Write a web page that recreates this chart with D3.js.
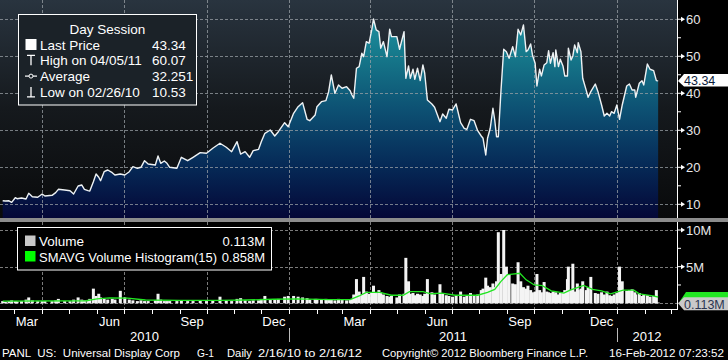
<!DOCTYPE html>
<html><head><meta charset="utf-8">
<script src="https://cdn.jsdelivr.net/npm/d3@7"></script>
<style>
html,body{margin:0;padding:0;background:#000;overflow:hidden}
svg{display:block}
text{font-family:"Liberation Sans",Arial,sans-serif}
</style>
</head><body>
<svg id="c" width="728" height="360"></svg>
<script>
// ---------- DATA ----------
const dates = [
"2010-02-16","2010-02-19","2010-02-23","2010-02-26",
"2010-03-02","2010-03-04","2010-03-09","2010-03-14","2010-03-17","2010-03-21","2010-03-27",
"2010-04-01","2010-04-04","2010-04-12","2010-04-16","2010-04-19","2010-04-26",
"2010-05-02","2010-05-06","2010-05-11","2010-05-15","2010-05-18","2010-05-22","2010-05-24","2010-05-28","2010-05-31",
"2010-06-03","2010-06-05","2010-06-09","2010-06-13","2010-06-18","2010-06-21","2010-06-27",
"2010-07-02","2010-07-07","2010-07-11","2010-07-16","2010-07-20","2010-07-24","2010-07-28",
"2010-08-05","2010-08-08","2010-08-11","2010-08-15","2010-08-18","2010-08-21","2010-08-29",
"2010-09-03","2010-09-10","2010-09-16","2010-09-24",
"2010-10-01","2010-10-08","2010-10-16","2010-10-23","2010-10-29",
"2010-11-04","2010-11-08","2010-11-13","2010-11-18","2010-11-22","2010-11-28",
"2010-12-01","2010-12-05","2010-12-11","2010-12-16","2010-12-20","2010-12-27","2010-12-31",
"2011-01-06","2011-01-11","2011-01-16","2011-01-21","2011-01-24","2011-01-30",
"2011-02-01","2011-02-06","2011-02-11","2011-02-14","2011-02-17","2011-02-21","2011-02-25",
"2011-03-01","2011-03-06","2011-03-10","2011-03-12","2011-03-14","2011-03-17","2011-03-20","2011-03-23","2011-03-25","2011-03-28","2011-03-31",
"2011-04-03","2011-04-05","2011-04-08","2011-04-11","2011-04-13","2011-04-16","2011-04-20","2011-04-23","2011-04-25",
"2011-05-01","2011-05-04","2011-05-09","2011-05-11","2011-05-14","2011-05-16","2011-05-19","2011-05-21","2011-05-24","2011-05-27","2011-05-30",
"2011-06-01","2011-06-04","2011-06-09","2011-06-12","2011-06-18","2011-06-21","2011-06-25","2011-06-28",
"2011-07-02","2011-07-06","2011-07-11","2011-07-15","2011-07-18","2011-07-22","2011-07-26","2011-07-30",
"2011-08-03","2011-08-05","2011-08-08","2011-08-10","2011-08-13","2011-08-16","2011-08-18","2011-08-20","2011-08-22","2011-08-25","2011-08-28","2011-08-31",
"2011-09-03","2011-09-07","2011-09-10","2011-09-13","2011-09-16","2011-09-19","2011-09-22","2011-09-24","2011-09-27","2011-09-29",
"2011-10-02","2011-10-04","2011-10-07","2011-10-09","2011-10-12","2011-10-15","2011-10-17","2011-10-19","2011-10-22","2011-10-24","2011-10-25","2011-10-28","2011-10-30",
"2011-11-02","2011-11-04","2011-11-07","2011-11-08","2011-11-11","2011-11-13","2011-11-15","2011-11-18","2011-11-19","2011-11-22","2011-11-24","2011-11-28","2011-11-30",
"2011-12-03","2011-12-08","2011-12-11","2011-12-15","2011-12-18","2011-12-21","2011-12-24","2011-12-26","2011-12-29",
"2012-01-01","2012-01-04","2012-01-07","2012-01-12","2012-01-15","2012-01-18","2012-01-21","2012-01-22","2012-01-26","2012-01-29","2012-01-31",
"2012-02-04","2012-02-07","2012-02-11","2012-02-14","2012-02-16"];

const lastPrice = [
10.97,10.90,10.95,10.53,
11.78,11.51,11.70,11.43,12.97,12.05,11.89,
12.78,12.24,12.43,13.14,14.05,13.86,
13.68,12.78,14.95,15.22,14.05,13.68,13.59,16.11,18.19,
17.30,16.38,18.81,19.27,18.54,17.92,18.19,
17.92,18.81,20.16,19.73,20.00,21.78,20.89,
20.62,23.05,21.08,21.70,21.08,20.00,19.73,
22.70,21.78,22.70,23.95,
23.78,25.14,26.49,25.41,24.22,
26.92,23.59,24.22,22.70,24.49,24.86,
26.92,29.19,30.08,28.46,29.62,32.05,30.97,
34.59,36.38,37.46,32.97,32.59,34.14,
36.38,37.73,38.00,40.43,44.95,40.00,42.24,
41.35,41.78,40.70,39.54,38.65,46.76,47.19,50.81,49.89,53.95,53.51,
57.11,60.07,57.11,56.65,52.16,53.95,49.89,57.30,55.30,
55.30,51.89,56.65,44.05,47.38,44.05,46.49,43.78,46.76,43.41,47.65,
45.41,38.19,37.11,36.22,32.32,34.41,33.24,35.68,
35.49,37.11,32.05,30.54,30.27,32.97,32.59,29.89,
28.46,27.84,23.32,27.84,30.54,35.95,32.78,28.27,28.27,40.89,51.89,51.24,
49.46,52.59,49.89,57.30,55.76,58.46,51.24,51.70,53.32,50.35,
48.11,41.97,46.49,44.68,47.65,48.27,51.51,48.11,50.97,47.19,51.70,47.19,49.19,
47.38,44.68,44.68,52.16,49.00,50.08,53.05,50.97,53.68,51.24,44.05,40.70,38.92,
40.43,42.51,40.43,36.84,33.86,34.59,33.86,35.03,34.59,
36.84,32.97,36.84,41.97,42.51,40.89,40.89,38.92,42.70,43.41,42.24,
47.92,46.49,46.11,43.41,43.34];

// volume in millions of shares
const volume = [
0.3,0.2,0.3,0.4,
0.3,0.25,0.3,0.5,0.8,0.4,0.3,
0.3,0.3,0.3,0.4,0.6,0.3,
0.3,0.5,0.8,0.5,0.4,0.3,0.6,2.0,1.0,
1.3,0.8,0.6,0.5,0.6,0.5,1.7,
0.8,0.5,0.4,0.3,0.4,0.3,0.3,
0.4,1.3,0.5,0.3,0.3,0.3,0.3,
0.4,0.3,0.3,0.4,
0.3,0.4,0.9,0.4,0.3,
0.6,0.7,0.4,0.3,0.4,0.4,
0.6,1.0,0.5,0.5,0.6,0.9,1.0,
1.0,0.9,0.8,0.7,0.5,0.6,
0.6,0.5,0.6,0.5,0.5,0.4,0.6,
0.5,0.4,0.5,0.6,1.2,3.3,1.6,1.2,3.6,1.6,1.3,
1.5,2.4,1.4,1.8,1.5,1.2,1.0,0.9,1.0,
0.8,1.2,1.3,6.2,3.0,1.3,1.4,1.1,1.3,1.2,1.0,
1.3,3.3,1.5,1.2,2.6,1.4,1.1,1.0,
0.9,1.0,1.6,0.9,1.0,1.4,1.1,1.2,
1.8,2.0,3.5,2.4,2.2,2.7,2.2,3.0,9.7,4.0,10.0,5.0,
3.9,2.7,2.6,5.6,3.0,2.2,2.0,2.4,1.8,1.5,
1.6,4.0,1.8,1.5,2.9,1.6,1.5,1.4,1.6,1.3,1.5,1.2,1.4,
1.5,1.8,3.3,5.0,1.8,5.4,1.6,2.7,1.8,2.0,3.0,1.8,2.2,
3.6,1.4,1.3,1.5,1.2,1.6,1.1,1.0,1.2,
1.4,5.0,3.0,1.7,1.8,1.9,1.5,1.2,1.4,1.0,1.2,
1.1,0.9,1.0,1.8,0.113];

const smaDates = ["2010-02-16","2010-05-20","2010-06-01","2010-06-15","2010-07-05","2010-07-25","2010-09-01","2010-10-15","2010-11-15","2010-12-15",
"2011-01-10","2011-02-15","2011-03-10","2011-03-20","2011-03-28","2011-04-12","2011-04-25","2011-05-08","2011-05-15","2011-05-30",
"2011-06-08","2011-06-20","2011-07-05","2011-07-30","2011-08-10","2011-08-18","2011-08-25","2011-09-01","2011-09-15","2011-09-22",
"2011-10-01","2011-10-10","2011-10-20","2011-10-30","2011-11-03","2011-11-10","2011-11-25","2011-12-05","2011-12-15","2011-12-25",
"2012-01-08","2012-01-20","2012-01-26","2012-02-10","2012-02-16"];
const smaVolume = [0.3,0.35,0.6,0.75,0.7,0.45,0.4,0.4,0.45,0.55,
0.6,0.5,0.5,1.0,1.5,1.5,1.1,1.1,1.6,1.6,
1.3,1.4,1.1,1.1,1.5,1.9,3.0,3.9,4.1,3.2,
2.5,2.4,1.7,1.5,1.4,1.8,2.45,1.9,1.7,1.3,
1.8,1.8,1.3,1.0,0.86];

const priceTicks = [10,20,30,40,50,60];
const priceMinor = [15,25,35,45,55];
const volTicks = [5,10];
const volTickLabels = ["5M","10M"];
const volMinor = [2.5,7.5];
const monthLabels = ["Mar","Jun","Sep","Dec","Mar","Jun","Sep","Dec"];
const monthLabelDates = ["2010-03-15","2010-06-15","2010-09-15","2010-12-15","2011-03-15","2011-06-15","2011-09-15","2011-12-15"];
const yearLabels = ["2010","2011","2012"];
const gridDates = ["2010-04-01","2010-07-01","2010-10-01","2011-01-01","2011-04-01","2011-07-01","2011-10-01","2012-01-01"];
const yearStarts = ["2011-01-01","2012-01-01"];
const legendRows = [
  {label:"Last Price", value:"43.34", icon:"square"},
  {label:"High on 04/05/11", value:"60.07", icon:"high"},
  {label:"Average", value:"32.251", icon:"avg"},
  {label:"Low on 02/26/10", value:"10.53", icon:"low"}];
const volLegend = [
  {label:"Volume", value:"0.113M", color:"#c8c8c8", fs:13.5, w:null},
  {label:"SMAVG Volume Histogram(15)", value:"0.858M", color:"#00ff00", fs:12.5, w:178}];
const footerParts = [
  {t:"PANL  US:  Universal Display Corp", x:2, w:178},
  {t:"G-1", x:197, w:17},
  {t:"Daily", x:227, w:25},
  {t:"2/16/10 to 2/16/12", x:258, w:104},
  {t:"Copyright\u00a9 2012 Bloomberg Finance L.P.", x:382, w:206},
  {t:"16-Feb-2012 07:23:52", x:609, w:115}];

// ---------- SCALES ----------
const parse = d3.utcParse("%Y-%m-%d");
const PR = 677;            // right edge of plot
const MAIN_B = 218;        // bottom of price panel
const x = d3.scaleUtc().domain([Date.UTC(2010,1,13), Date.UTC(2012,2,8)]).range([0, PR]);
const yP = d3.scaleLinear().domain([6.3, 65.2]).range([MAIN_B, 0]);
const yV = d3.scaleLinear().domain([0, 10]).range([303.3, 230]);

const n = Math.min(dates.length, lastPrice.length, volume.length);
const data = d3.range(n).map(i => ({date: parse(dates[i]), p: lastPrice[i], v: volume[i]}));
const sma = smaDates.map((d,i) => ({date: parse(d), v: smaVolume[i]}));

const svg = d3.select("#c");
svg.append("rect").attr("width",728).attr("height",360).attr("fill","#000");
const defs = svg.append("defs");
const bgG = defs.append("linearGradient").attr("id","bg").attr("gradientUnits","userSpaceOnUse")
  .attr("x1",0).attr("x2",0).attr("y1",0).attr("y2",MAIN_B);
[[0,"#29343f"],[0.5,"#15191d"],[1,"#090a0b"]].forEach(s=>bgG.append("stop").attr("offset",s[0]).attr("stop-color",s[1]));
const arG = defs.append("linearGradient").attr("id","ar").attr("gradientUnits","userSpaceOnUse")
  .attr("x1",0).attr("x2",0).attr("y1",0).attr("y2",MAIN_B);
[[0,"#1f9aab"],[0.25,"#16798b"],[0.5,"#0d5173"],[0.75,"#062b58"],[1,"#040737"]].forEach(s=>arG.append("stop").attr("offset",s[0]).attr("stop-color",s[1]));

// price panel background
svg.append("rect").attr("x",0).attr("y",0).attr("width",PR).attr("height",MAIN_B).attr("fill","url(#bg)");

// area
svg.append("path").datum(data)
  .attr("d", d3.area().x(d=>x(d.date)).y0(MAIN_B).y1(d=>yP(d.p)))
  .attr("fill","url(#ar)");

// grid (price)
const grid = svg.append("g").attr("stroke","#9aa0a6").attr("stroke-opacity",0.75).attr("stroke-width",1).attr("stroke-dasharray","3,2");
priceTicks.forEach(t=>grid.append("line").attr("x1",0).attr("x2",PR).attr("y1",Math.round(yP(t))+0.5).attr("y2",Math.round(yP(t))+0.5));
gridDates.forEach(d=>{const gx=Math.round(x(parse(d)))+0.5;
  grid.append("line").attr("x1",gx).attr("x2",gx).attr("y1",0).attr("y2",MAIN_B);});

// price line
svg.append("path").datum(data)
  .attr("d", d3.line().x(d=>x(d.date)).y(d=>yP(d.p)))
  .attr("fill","none").attr("stroke","#eef2f4").attr("stroke-width",1.4).attr("stroke-linejoin","round");

// right axis (price)
const ax = svg.append("g");
ax.append("line").attr("x1",PR+0.5).attr("x2",PR+0.5).attr("y1",0).attr("y2",MAIN_B).attr("stroke","#fff");
priceTicks.forEach(t=>{
  const ty=yP(t);
  ax.append("line").attr("x1",PR).attr("x2",PR+5).attr("y1",ty).attr("y2",ty).attr("stroke","#fff");
  ax.append("path").attr("d",`M${PR+4},${ty-2.5}L${PR+8},${ty}L${PR+4},${ty+2.5}Z`).attr("fill","#fff");
  ax.append("text").attr("x",PR+9).attr("y",ty+5).attr("fill","#e8e8e8").attr("font-size","13px").text(t);
});
priceMinor.forEach(t=>ax.append("line").attr("x1",PR).attr("x2",PR+4).attr("y1",yP(t)).attr("y2",yP(t)).attr("stroke","#fff"));

// last price tag
const lp = yP(lastPrice[n-1]);
svg.append("path").attr("d",`M${PR+1},${lp}L${PR+7},${lp-7}L728,${lp-7}L728,${lp+5.5}L${PR+7},${lp+5.5}Z`).attr("fill","#fff");
svg.append("text").attr("x",PR+7).attr("y",lp+4).attr("fill","#0b1b3a").attr("font-size","12.5px").text(lastPrice[n-1].toFixed(2));

// price legend
const lg = svg.append("g");
lg.append("rect").attr("x",18.5).attr("y",14.5).attr("width",178).attr("height",90.5).attr("fill","#1b2228").attr("stroke","#fff").attr("stroke-width",1);
lg.append("text").attr("x",107.5).attr("y",33.5).attr("text-anchor","middle").attr("fill","#fff").attr("font-size","13.5px").text("Day Session");
legendRows.forEach((r,i)=>{
  const by = 49.5 + i*15.8;
  lg.append("text").attr("x",40).attr("y",by).attr("fill","#fff").attr("font-size","13.5px").text(r.label);
  lg.append("text").attr("x",152).attr("y",by).attr("fill","#fff").attr("font-size","13.5px").text(r.value);
  const cy = by-5;
  if(r.icon==="square") lg.append("rect").attr("x",25.5).attr("y",by-10.5).attr("width",11).attr("height",11).attr("fill","#fff");
  if(r.icon==="high"){ lg.append("path").attr("d",`M27,${cy-5}H35M31,${cy-5}V${cy+5}`).attr("stroke","#fff").attr("stroke-width",1.3).attr("fill","none"); }
  if(r.icon==="avg"){ lg.append("path").attr("d",`M25,${cy}H37`).attr("stroke","#fff").attr("stroke-width",1.2);
    lg.append("circle").attr("cx",31).attr("cy",cy).attr("r",2).attr("fill","#1b2228").attr("stroke","#fff"); }
  if(r.icon==="low"){ lg.append("path").attr("d",`M31,${cy-5}V${cy+5}M27,${cy+5}H35`).attr("stroke","#fff").attr("stroke-width",1.3).attr("fill","none"); }
});

// separator band
svg.append("rect").attr("x",0).attr("y",MAIN_B).attr("width",728).attr("height",4).attr("fill","#8c8c8c");

// volume panel grid
const vgrid = svg.append("g").attr("stroke","#9a9a9a").attr("stroke-opacity",0.8).attr("stroke-dasharray","3,2");
[0].concat(volTicks).forEach(t=>vgrid.append("line").attr("x1",0).attr("x2",PR).attr("y1",Math.round(yV(t))+0.5).attr("y2",Math.round(yV(t))+0.5));
gridDates.forEach(d=>{const gx=Math.round(x(parse(d)))+0.5;
  vgrid.append("line").attr("x1",gx).attr("x2",gx).attr("y1",222).attr("y2",309);});

// volume bars
svg.append("g").selectAll("rect").data(data).join("rect")
  .attr("x",d=>x(d.date)-1.5).attr("width",3)
  .attr("y",d=>yV(d.v)).attr("height",d=>yV(0)-yV(d.v))
  .attr("fill","#f4f4f4");

// SMA line
svg.append("path").datum(sma)
  .attr("d", d3.line().x(d=>x(d.date)).y(d=>yV(d.v)))
  .attr("fill","none").attr("stroke","#22e622").attr("stroke-width",1.3);

// volume axis
const vax = svg.append("g");
vax.append("line").attr("x1",PR+0.5).attr("x2",PR+0.5).attr("y1",222).attr("y2",309).attr("stroke","#fff");
volTicks.forEach((t,i)=>{
  const ty=yV(t);
  vax.append("line").attr("x1",PR).attr("x2",PR+5).attr("y1",ty).attr("y2",ty).attr("stroke","#fff");
  vax.append("path").attr("d",`M${PR+4},${ty-2.5}L${PR+8},${ty}L${PR+4},${ty+2.5}Z`).attr("fill","#fff");
  vax.append("text").attr("x",PR+9).attr("y",ty+5).attr("fill","#e8e8e8").attr("font-size","13px").text(volTickLabels[i]);
});
volMinor.forEach(t=>vax.append("line").attr("x1",PR).attr("x2",PR+4).attr("y1",yV(t)).attr("y2",yV(t)).attr("stroke","#fff"));

// volume tags (SMA behind, volume in front)
const sy = yV(smaVolume[smaVolume.length-1]);
svg.append("path").attr("d",`M${PR+3},${sy+4}L${PR+9},${sy-5}L728,${sy-5}L728,${sy+4}Z`).attr("fill","#22e622");
const vy = yV(0);
svg.append("path").attr("d",`M${PR+1},${vy}L${PR+7},${vy-6}L728,${vy-6}L728,${vy+7}L${PR+7},${vy+7}Z`).attr("fill","#c9c9c9");
svg.append("text").attr("x",PR+7).attr("y",vy+5.5).attr("fill","#2a3550").attr("font-size","12.5px").text(volume[n-1].toFixed(3)+"M");

// volume legend
const vl = svg.append("g");
vl.append("rect").attr("x",17.5).attr("y",227.5).attr("width",254).attr("height",42.5).attr("fill","#000").attr("stroke","#fff");
volLegend.forEach((r,i)=>{
  const by = 246 + i*15.5;
  vl.append("rect").attr("x",25).attr("y",by-10.5).attr("width",10.5).attr("height",10.5).attr("fill",r.color);
  const t = vl.append("text").attr("x",39).attr("y",by).attr("fill","#fff").attr("font-size",r.fs+"px").text(r.label);
  if(r.w) t.attr("textLength",r.w).attr("lengthAdjust","spacingAndGlyphs");
  vl.append("text").attr("x",265).attr("y",by).attr("text-anchor","end").attr("fill","#fff").attr("font-size","13px").text(r.value);
});

// bottom axis
const bx = svg.append("g");
bx.append("line").attr("x1",0).attr("x2",PR+1).attr("y1",309.5).attr("y2",309.5).attr("stroke","#fff");
d3.utcMonth.range(x.domain()[0], x.domain()[1]).forEach(m=>{
  const mx = Math.round(x(m))+0.5;
  bx.append("line").attr("x1",mx).attr("x2",mx).attr("y1",309).attr("y2",314).attr("stroke","#fff");
});
monthLabels.forEach((t,i)=>bx.append("text").attr("x",x(parse(monthLabelDates[i]))).attr("y",326)
  .attr("text-anchor","middle").attr("fill","#fff").attr("font-size","13px").text(t));
const yb = [x.range()[0]].concat(yearStarts.map(d=>x(parse(d)))).concat([x.range()[1]]);
yearLabels.forEach((t,i)=>bx.append("text").attr("x",(yb[i]+yb[i+1])/2).attr("y",340.5)
  .attr("text-anchor","middle").attr("fill","#fff").attr("font-size","13px").text(t));
yearStarts.forEach(d=>{const sx=Math.round(x(parse(d)))+0.5;
  bx.append("line").attr("x1",sx).attr("x2",sx).attr("y1",328).attr("y2",342).attr("stroke","#bbb");});

// footer
footerParts.forEach(f=>svg.append("text").attr("x",f.x).attr("y",356.5).attr("fill","#fff")
  .attr("font-size","11px").style("white-space","pre")
  .attr("textLength",f.w).attr("lengthAdjust","spacingAndGlyphs").text(f.t));
</script>
</body></html>
